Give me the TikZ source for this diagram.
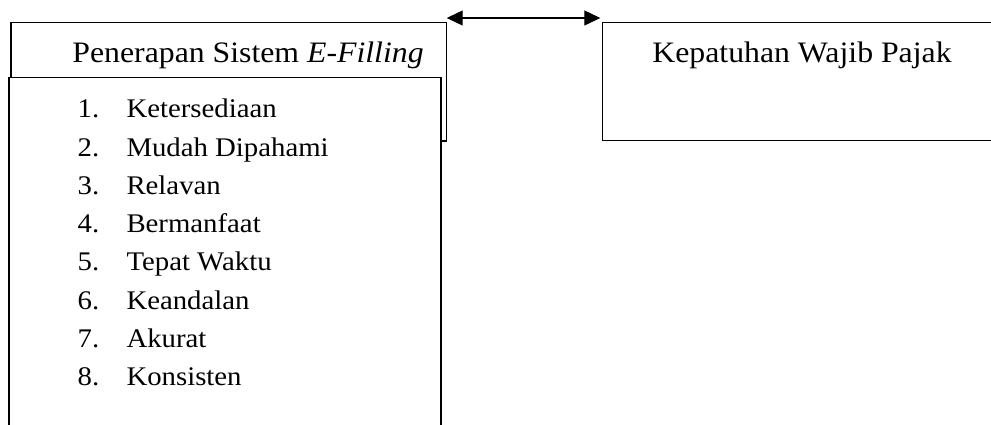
\documentclass[tikz,border=0pt]{standalone}
\usepackage{fontspec}
\setmainfont[FakeStretch=1.07]{Liberation Serif}
\usetikzlibrary{arrows.meta}
\begin{document}
\begin{tikzpicture}[x=1pt,y=-1pt,
  box/.style={draw, line width=1.2pt, fill=white, inner sep=0pt, outer sep=0pt},
  head/.style={anchor=base west, inner sep=0pt, font=\fontsize{29.7}{36}\selectfont},
  itm/.style={anchor=base west, inner sep=0pt, font=\fontsize{26.9}{32}\selectfont},
  link/.style={line width=1.2pt, {Triangle[length=16pt,width=15pt]}-{Triangle[length=16pt,width=15pt]}}]
\useasboundingbox (0,0) rectangle (991,424);
\clip (0,0) rectangle (991,424);
\node[box, anchor=north west, minimum width=435.7pt, minimum height=118.7pt] (outer) at (11,22.3) {};
\node[box, anchor=north west, minimum width=432pt, minimum height=360pt] (inner) at (9,77.3) {};
\node[box, anchor=north west, minimum width=420pt, minimum height=118.4pt] (right) at (602.3,22.3) {};
\draw[link, shorten >=2pt] ([yshift=4.3pt]outer.north east) -- ([yshift=4.3pt]right.north west);
\node[head] (h1) at (72.2,62.7) {Penerapan Sistem \textit{E-Filling}};
\node[head] (h2) at (652.2,62.7) {Kepatuhan Wajib Pajak};
\foreach \t [count=\i] in {Ketersediaan, Mudah Dipahami, Relavan, Bermanfaat, Tepat Waktu, Keandalan, Akurat, Konsisten}{
  \node[itm] (n\i) at (77.5,{117.7+38.3*(\i-1)}) {\i.};
  \node[itm] (t\i) at (126.3,{117.7+38.3*(\i-1)}) {\t};
}
\end{tikzpicture}
\end{document}
